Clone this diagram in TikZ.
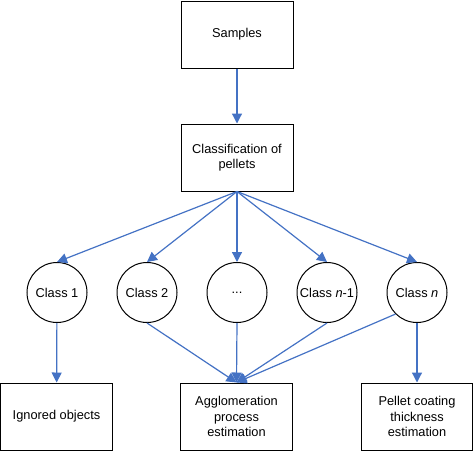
\documentclass[tikz,border=0pt]{standalone}
\usepackage{fontspec}
\setmainfont{Liberation Sans}
\usetikzlibrary{arrows.meta}

\begin{document}
\begin{tikzpicture}[x=1pt,y=-1pt,
    >={Triangle[length=10pt,width=10pt]},
    font=\fontsize{12.8}{15.3}\selectfont,
    box/.style = {
      draw,
      line width = 1pt,
      rectangle,
      align = center,
      inner sep = 0pt
    },
    cls/.style = {
      draw,
      line width = 1pt,
      circle,
      inner sep = 0pt,
      minimum size = 60pt
    },
    link/.style = {
      ->,
      draw = linkblue,
      line width = 1.2pt
    }
  ]
  \definecolor{linkblue}{RGB}{68,114,196}
  \useasboundingbox (0,0) rectangle (474,451);

  \node[box,minimum width=112pt,minimum height=67pt] (samples) at (237,34.5) {Samples};
  \node[box,minimum width=112pt,minimum height=67pt] (classify) at (237,157.5) {Classification of\\pellets};

  \node[cls] (c1) at (57,292.5)  {Class 1};
  \node[cls] (c2) at (147,292.5) {Class 2};
  \node[cls] (c3) at (237,292.5) {...};
  \node[cls] (c4) at (327,292.5) {Class \textit{n}-1};
  \node[cls] (c5) at (417,292.5) {Class \textit{n}};

  \node[box,minimum width=112pt,minimum height=67pt] (ignored) at (56.5,416.5) {Ignored objects};
  \node[box,minimum width=112pt,minimum height=67pt] (agglo) at (236.5,416.5) {Agglomeration\\process\\estimation};
  \node[box,minimum width=111pt,minimum height=67pt] (coating) at (417,416.5) {Pellet coating\\thickness\\estimation};

  \draw[link] (samples) -- (classify);
  \foreach \c in {c1,c2,c3,c4,c5}
    \draw[link] (classify.south) -- (\c.north);

  \draw[link] (c1) -- (ignored);
  \draw[link] (c5) -- (coating);
  \draw[link] (c2.south) -- (agglo.north);
  \draw[link] (c3.south) -- (agglo.north);
  \draw[link] (c4.south) -- (agglo.north);
  \draw[link] (c5.south west) -- (agglo.north);
\end{tikzpicture}
\end{document}
